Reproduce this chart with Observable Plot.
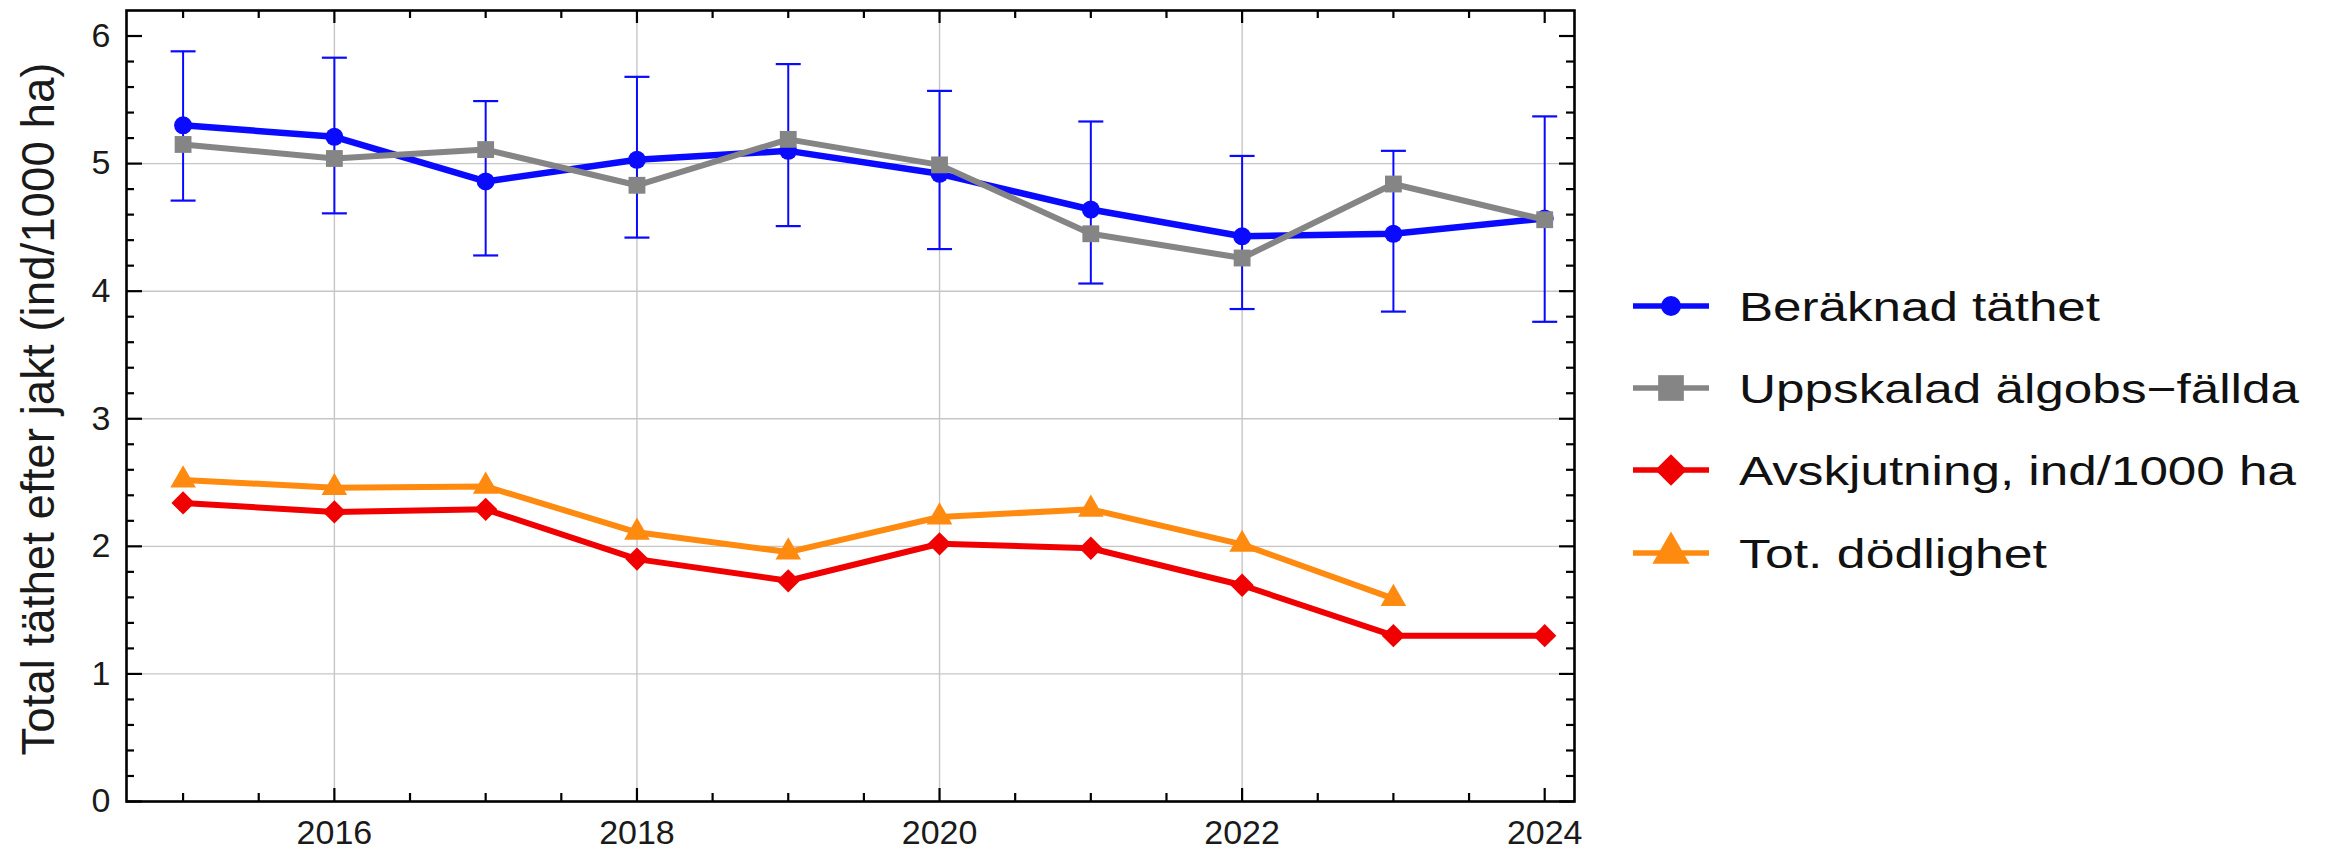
<!DOCTYPE html>
<html>
<head>
<meta charset="utf-8">
<script src="https://cdn.jsdelivr.net/npm/d3@7"></script>
<script src="https://cdn.jsdelivr.net/npm/@observablehq/plot@0.6"></script>
<style>
  html, body { margin: 0; padding: 0; background: #ffffff; }
  #wrap { position: relative; width: 2328px; height: 851px; overflow: hidden; background: #ffffff; }
  #wrap > svg { position: absolute; top: 0; }
</style>
</head>
<body>
<div id="wrap"></div>
<script>
// ---------------- data ----------------
const years        = [2015, 2016, 2017, 2018, 2019, 2020, 2021, 2022, 2023, 2024];
const beraknad     = [5.30, 5.21, 4.86, 5.03, 5.10, 4.92, 4.64, 4.43, 4.45, 4.57];
const beraknadLow  = [4.71, 4.61, 4.28, 4.42, 4.51, 4.33, 4.06, 3.86, 3.84, 3.76];
const beraknadHigh = [5.88, 5.83, 5.49, 5.68, 5.78, 5.57, 5.33, 5.06, 5.10, 5.37];
const uppskalad    = [5.15, 5.04, 5.11, 4.83, 5.19, 4.99, 4.45, 4.26, 4.84, 4.56];
const avskjutning  = [2.34, 2.27, 2.29, 1.90, 1.73, 2.02, 1.985, 1.695, 1.30, 1.30];
const totDodlighet = [2.52, 2.46, 2.47, 2.11, 1.955, 2.23, 2.29, 2.015, 1.59, null];

const seriesNames = ["Beräknad täthet", "Uppskalad älgobs\u2212fällda", "Avskjutning, ind/1000 ha", "Tot. dödlighet"];
const yLabel = "Total täthet efter jakt (ind/1000 ha)";

const xTickLabels = [2016, 2018, 2020, 2022, 2024];
const xMinorTicks = [2015, 2015.5, 2016.5, 2017, 2017.5, 2018.5, 2019, 2019.5, 2020.5, 2021, 2021.5, 2022.5, 2023, 2023.5];
const yTickLabels = [0, 1, 2, 3, 4, 5, 6];
const yMinorTicks = d3.range(0, 31).map(i => +(i * 0.2).toFixed(1)).filter(v => !Number.isInteger(v));
const xGrid = [2016, 2018, 2020, 2022];
const yGrid = [1, 2, 3, 4, 5];

const rows = years.map((year, i) => ({
  year,
  beraknad: beraknad[i], lo: beraknadLow[i], hi: beraknadHigh[i],
  uppskalad: uppskalad[i], avskjutning: avskjutning[i], tot: totDodlighet[i]
}));

// ---------------- style ----------------
const BLUE = "#0a0aff", GRAY = "#858585", RED = "#f00000", ORANGE = "#ff8a10";
const FONT = "'Liberation Sans', Arimo, Arial, Helvetica, sans-serif";

const W = 1620, H = 851;
const mL = 126, mR = W - 1574, mT = 10, mB = 50;
const innerW = W - mL - mR, innerH = H - mT - mB;

const capSymbol = {
  draw(ctx, size) {
    const w = Math.sqrt(size / Math.PI);
    ctx.moveTo(-w, 0);
    ctx.lineTo(w, 0);
  }
};

const tickStyle = {stroke: "#000", strokeWidth: 2.2};

const chart = Plot.plot({
  width: W, height: H,
  marginLeft: mL, marginRight: mR, marginTop: mT, marginBottom: mB,
  style: {fontFamily: FONT, background: "transparent", color: "#1a1a1a", overflow: "visible"},
  x: {domain: [2014.626, 2024.197]},
  y: {domain: [0, 6.2]},
  marks: [
    Plot.ruleY(yGrid, {y: d => d, stroke: "#c6c6c6", strokeWidth: 1.4}),
    Plot.ruleX(xGrid, {x: d => d, stroke: "#c6c6c6", strokeWidth: 1.4}),

    // error bars of Beräknad täthet
    Plot.ruleX(rows, {x: "year", y1: "lo", y2: "hi", stroke: BLUE, strokeWidth: 2}),
    Plot.dot(rows, {x: "year", y: "lo", symbol: capSymbol, r: 12.5, stroke: BLUE, strokeWidth: 2.2, fill: "none"}),
    Plot.dot(rows, {x: "year", y: "hi", symbol: capSymbol, r: 12.5, stroke: BLUE, strokeWidth: 2.2, fill: "none"}),

    Plot.line(rows, {x: "year", y: "beraknad", stroke: BLUE, strokeWidth: 6.5}),
    Plot.dot(rows, {x: "year", y: "beraknad", symbol: "circle", r: 9, fill: BLUE}),

    Plot.line(rows, {x: "year", y: "uppskalad", stroke: GRAY, strokeWidth: 6}),
    Plot.dot(rows, {x: "year", y: "uppskalad", symbol: "square", r: 9.5, fill: GRAY}),

    Plot.line(rows, {x: "year", y: "avskjutning", stroke: RED, strokeWidth: 6}),
    Plot.dot(rows, {x: "year", y: "avskjutning", symbol: "diamond2", r: 10.5, fill: RED}),

    Plot.line(rows, {x: "year", y: "tot", stroke: ORANGE, strokeWidth: 6}),
    Plot.dot(rows, {x: "year", y: "tot", symbol: "triangle", r: 9.5, fill: ORANGE}),

    // inward ticks on all four sides
    Plot.ruleX(xTickLabels, {x: d => d, insetTop: innerH - 13, ...tickStyle}),
    Plot.ruleX(xMinorTicks, {x: d => d, insetTop: innerH - 8, ...tickStyle}),
    Plot.ruleX(xTickLabels, {x: d => d, insetBottom: innerH - 13, ...tickStyle}),
    Plot.ruleX(xMinorTicks, {x: d => d, insetBottom: innerH - 8, ...tickStyle}),
    Plot.ruleY(yTickLabels, {y: d => d, insetRight: innerW - 16, ...tickStyle}),
    Plot.ruleY(yMinorTicks, {y: d => d, insetRight: innerW - 8, ...tickStyle}),
    Plot.ruleY(yTickLabels, {y: d => d, insetLeft: innerW - 15, ...tickStyle}),
    Plot.ruleY(yMinorTicks, {y: d => d, insetLeft: innerW - 8, ...tickStyle}),

    Plot.frame({stroke: "#000", strokeWidth: 2.6}),

    Plot.axisX(xTickLabels, {tickSize: 0, tickPadding: 18, fontSize: 34, tickFormat: d => String(d), label: null}),
    Plot.axisY(yTickLabels, {tickSize: 0, tickPadding: 16, fontSize: 34, tickFormat: d => String(d), label: null}),

    Plot.text([yLabel], {frameAnchor: "left", dx: -88, rotate: -90, fontSize: 47, text: d => d, fill: "#1a1a1a"})
  ]
});
chart.style.left = "0px";
document.getElementById("wrap").appendChild(chart);

// fit the rotated axis label to the reference length
chart.querySelectorAll("text").forEach(t => {
  if (t.textContent === yLabel) {
    const target = t.querySelector("tspan") || t;
    t.setAttribute("text-anchor", "start");
    target.setAttribute("text-anchor", "start");
    target.setAttribute("x", -349.5);
    target.setAttribute("textLength", 693);
    target.setAttribute("lengthAdjust", "spacingAndGlyphs");
  }
});

// ---------------- legend ----------------
const LX = 1590;
const legendItems = [
  {label: seriesNames[0], color: BLUE,   symbol: d3.symbolCircle,   size: Math.PI * 100, cy: 306, textW: 361},
  {label: seriesNames[1], color: GRAY,   symbol: d3.symbolSquare,   size: 660,           cy: 388, textW: 560},
  {label: seriesNames[2], color: RED,    symbol: d3.symbolDiamond2, size: 640,           cy: 470, textW: 557},
  {label: seriesNames[3], color: ORANGE, symbol: d3.symbolTriangle, size: 600,           cy: 553, textW: 308}
];
const legend = d3.create("svg")
  .attr("width", 2328 - LX).attr("height", 851)
  .style("left", LX + "px")
  .attr("font-family", FONT);
const items = legend.selectAll("g").data(legendItems).join("g")
  .attr("transform", d => `translate(0,${d.cy})`);
items.append("line")
  .attr("x1", 1633 - LX).attr("x2", 1709 - LX)
  .attr("stroke", d => d.color).attr("stroke-width", 5.5);
items.append("path")
  .attr("d", d => d3.symbol(d.symbol, d.size)())
  .attr("transform", `translate(${1671 - LX},0)`)
  .attr("fill", d => d.color);
items.append("text")
  .attr("x", 1739 - LX).attr("y", 15)
  .attr("font-size", 41)
  .attr("fill", "#111")
  .attr("textLength", d => d.textW)
  .attr("lengthAdjust", "spacingAndGlyphs")
  .text(d => d.label);
document.getElementById("wrap").appendChild(legend.node());
</script>
</body>
</html>
